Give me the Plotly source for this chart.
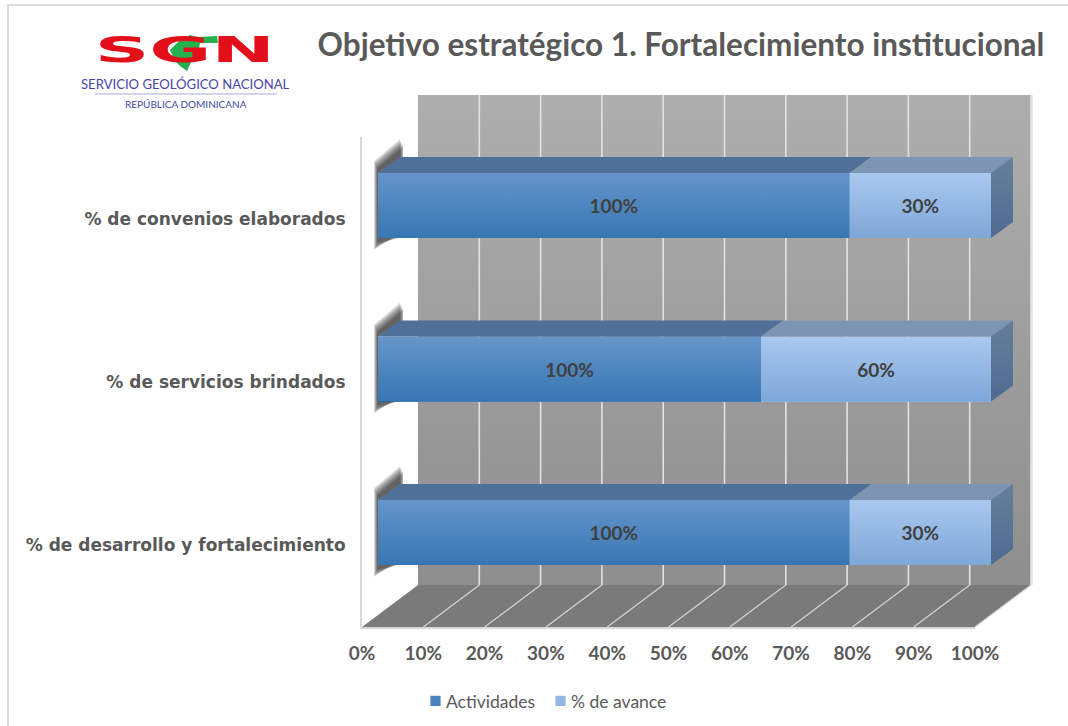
import plotly.graph_objects as go

# ---- data (bottom-to-top, as the axis reads) ----
categories = ["% de desarrollo y fortalecimiento", "% de servicios brindados", "% de convenios elaborados"]
actividades = [100, 100, 100]
avance = [30, 60, 30]
series_names = ["Actividades", "% de avance"]
x_ticks = [0, 10, 20, 30, 40, 50, 60, 70, 80, 90, 100]
title_text = "Objetivo estratégico 1. Fortalecimiento institucional"
logo_name = "SGN"
logo_line1 = "SERVICIO GEOLÓGICO NACIONAL"
logo_line2 = "REPÚBLICA DOMINICANA"

# ---- layout geometry (page pixels) ----
W, H = 1068, 726
FRONT_L, FRONT_R, FRONT_T, FRONT_B = 362, 975, 137, 627     # front plane of the 3-D box
BAR_L, BAR_R, BAR_T, BAR_B = 378, 991, 123.75, 614.25       # plane of the bars' front faces
WALL_L, WALL_R, WALL_T, WALL_B = 418, 1031, 95, 585         # back wall
BAR_DX, BAR_DY = 22, 16                                     # bar depth
PAD_L, PAD_R = 14, 46
px_per_x = (BAR_R - BAR_L) / 100
px_per_y = (BAR_B - BAR_T) / 3
dx = BAR_DX / px_per_x
dy = BAR_DY / px_per_y
half = 65 / px_per_y / 2

GREY_TEXT = "#595959"
BLUE_TOP, BLUE_BOT = "#6595CB", "#3876B2"
LIGHT_TOP, LIGHT_BOT = "#A9C8EE", "#7FA7D8"

fig = go.Figure()

def poly(xs, ys, color=None, gradient=None, xa="x", ya="y", opacity=None):
    kw = dict(x=list(xs) + [xs[0]], y=list(ys) + [ys[0]], mode="lines", line=dict(width=0),
              fill="toself", hoverinfo="skip", showlegend=False, xaxis=xa, yaxis=ya)
    if gradient:
        kw["fillgradient"] = dict(type="vertical", colorscale=[[0, gradient[0]], [1, gradient[1]]])
    else:
        kw["fillcolor"] = color
    if opacity is not None:
        kw["opacity"] = opacity
    fig.add_trace(go.Scatter(**kw))

def seg(xs, ys, color, width, xa="x", ya="y"):
    fig.add_trace(go.Scatter(x=xs, y=ys, mode="lines", line=dict(color=color, width=width),
                             hoverinfo="skip", showlegend=False, xaxis=xa, yaxis=ya))

# ---- page canvas: frame, box walls, logo rule ----
seg([8, 8, W], [H, 5, 5], "#dcdcdc", 2)
poly([WALL_L, WALL_R, WALL_R, WALL_L], [WALL_T, WALL_T, WALL_B, WALL_B], gradient=("#8E8E8E", "#AEAEAE"))
poly([FRONT_L, FRONT_R, WALL_R, WALL_L], [FRONT_B, FRONT_B, WALL_B, WALL_B], color="#7A7A7A")
seg([WALL_R + 1, WALL_R + 1], [WALL_T, WALL_B], "#e4e4e4", 1.5)
step = (FRONT_R - FRONT_L) / 100
for t in x_ticks[1:]:
    seg([WALL_L + t * step] * 2, [WALL_T, WALL_B], "#e2e2e2", 1.6)
    seg([FRONT_L + t * step, WALL_L + t * step], [FRONT_B, WALL_B], "#d4d4d4", 1.2)
seg([95, 277], [94, 94], "#a9a9e0", 1.2)

# ---- bars ----
fig.add_trace(go.Bar(name=series_names[0], y=list(range(len(categories))), x=actividades, orientation="h",
                     marker=dict(color="#4A84BF", line=dict(width=0)), xaxis="x2", yaxis="y2", hoverinfo="skip"))
fig.add_trace(go.Bar(name=series_names[1], y=list(range(len(categories))), x=avance, orientation="h",
                     marker=dict(color="#94B6E2", line=dict(width=0)), xaxis="x2", yaxis="y2", hoverinfo="skip"))

label_x, label_y, label_t = [], [], []
ux, uy = 1 / px_per_x, 1 / px_per_y
for i, (a, b) in enumerate(zip(actividades, avance)):
    share = a / (a + b) * 100
    top, bot = i + half, i - half
    # blurred shadow on the side wall: many faint layers, tighter ones on top
    for grow in (6, 5, 4, 3, 2, 1, 0, -1, -2):
        tip = BAR_DX + 3 - max(grow, 0) * 0.5
        poly([-1 * ux - max(grow, 0) * 0.5 * ux, tip * ux, tip * ux, 0, 0, (19 - grow) * ux, -1 * ux - max(grow, 0) * 0.5 * ux],
             [top + (6 + grow) * uy, top + (28 + grow) * uy, top + BAR_DY * uy, top, bot, bot,
              bot - (6 + grow) * uy],
             color="#262626", xa="x2", ya="y2", opacity=0.13)
    # front faces with the vertical gradient
    poly([0, share, share, 0], [bot, bot, top, top], gradient=(BLUE_BOT, BLUE_TOP), xa="x2", ya="y2")
    poly([share, 100, 100, share], [bot, bot, top, top], gradient=(LIGHT_BOT, LIGHT_TOP), xa="x2", ya="y2")
    # top faces and right side
    poly([0, share, share + dx, dx], [top, top, top + dy, top + dy], color="#4F7199", xa="x2", ya="y2")
    poly([share, 100, 100 + dx, share + dx], [top, top, top + dy, top + dy], color="#7D94B2", xa="x2", ya="y2")
    poly([100, 100 + dx, 100 + dx, 100], [bot, bot + dy, top + dy, top], gradient=("#4E6B90", "#677F9C"), xa="x2", ya="y2")
    label_x += [share / 2, share + (100 - share) / 2]
    label_y += [i - 3 * uy, i - 3 * uy]
    label_t += [f"{a}%", f"{b}%"]

fig.add_trace(go.Scatter(x=label_x, y=label_y, text=label_t, mode="text", textposition="middle center",
                         textfont=dict(family="Lato", size=19, color="#404040", weight="bold"),
                         hoverinfo="skip", showlegend=False, xaxis="x2", yaxis="y2"))

# ---- front axes carrying the tick labels ----
fig.add_trace(go.Scatter(x=[0], y=[0], mode="markers", marker=dict(opacity=0), hoverinfo="skip",
                         showlegend=False, xaxis="x3", yaxis="y3"))

hidden = dict(visible=False, fixedrange=True)
fig.update_layout(
    width=W, height=H, margin=dict(l=0, r=0, t=0, b=0, autoexpand=False), paper_bgcolor="white",
    plot_bgcolor="rgba(0,0,0,0)",
    barmode="stack", barnorm="percent", bargap=1 - 65 / px_per_y,
    title=dict(text=title_text, x=681 / W, y=1 - 45 / H, xanchor="center", yanchor="middle",
               font=dict(family="Lato", size=31.5, color=GREY_TEXT, weight="bold")),
    xaxis=dict(hidden, domain=[0, 1], range=[0, W]),
    yaxis=dict(hidden, domain=[0, 1], range=[H, 0]),
    xaxis2=dict(hidden, domain=[(BAR_L - PAD_L) / W, (BAR_R + PAD_R) / W],
                range=[-PAD_L / px_per_x, 100 + PAD_R / px_per_x], anchor="y2"),
    yaxis2=dict(hidden, domain=[1 - BAR_B / H, 1 - BAR_T / H], range=[-0.5, 2.5], anchor="x2"),
    xaxis3=dict(domain=[FRONT_L / W, FRONT_R / W], range=[0, 100], anchor="y3", tickvals=x_ticks,
                ticktext=[f"{t}%" for t in x_ticks], showgrid=False, zeroline=False, showline=True,
                linecolor="#d9d9d9", linewidth=2,
                ticks="outside", ticklen=8, tickcolor="rgba(0,0,0,0)", fixedrange=True,
                tickfont=dict(family="Lato", size=19, color=GREY_TEXT, weight="bold")),
    yaxis3=dict(domain=[1 - FRONT_B / H, 1 - FRONT_T / H], range=[-0.5, 2.5], anchor="x3",
                tickvals=list(range(len(categories))), ticktext=categories, showgrid=False, zeroline=False,
                showline=True, linecolor="#d9d9d9", linewidth=2, ticks="outside", ticklen=11,
                tickcolor="rgba(0,0,0,0)", fixedrange=True,
                tickfont=dict(family="DejaVu Sans", size=17, color=GREY_TEXT, weight="bold")),
    legend=dict(orientation="h", x=406 / W, y=1 - 701 / H, xanchor="left", yanchor="middle",
                traceorder="normal",
                font=dict(family="Lato", size=17.5, color=GREY_TEXT), entrywidth=80, entrywidthmode="pixels",
                bgcolor="rgba(0,0,0,0)"),
    annotations=[
        dict(text=logo_name, x=185, y=49, xref="x", yref="y", showarrow=False,
             font=dict(family="DejaVu Sans", size=36, color="#E3101C", weight="bold")),
        dict(text=logo_line1, x=185.5, y=84, xref="x", yref="y", showarrow=False,
             font=dict(family="Lato", size=13.1, color="#4646A6")),
        dict(text=logo_line2, x=185.5, y=104, xref="x", yref="y", showarrow=False,
             font=dict(family="Lato", size=10, color="#4646A6")),
    ],
    shapes=[dict(type="path", xref="x", yref="y", layer="above", line=dict(width=0), fillcolor="#22B14C",
                 path="M170,50 L180,40 L190,35 L198,37 L217,36 L218,43 L200,43 L198,53 L192,60 L187,71 L180,66 L175,61 Z")],
)

# stretch the logo wordmark (still real text), tighten the legend swatches, drop the page margin
post = """
function tweak(){
  document.body.style.margin='0';
  document.querySelectorAll('text.annotation-text').forEach(function(t){
    if(t.textContent==='SGN'){t.setAttribute('textLength','180');t.setAttribute('lengthAdjust','spacingAndGlyphs');}
  });
  document.querySelectorAll('.legend .legendpoints path').forEach(function(p){
    p.setAttribute('transform','translate(29.5,0) scale(0.85)');
  });
  document.querySelectorAll('.legend .scrollbox').forEach(function(s){s.removeAttribute('clip-path');});
  document.querySelectorAll('.legend [clip-path]').forEach(function(s){s.removeAttribute('clip-path');});
}
tweak(); setTimeout(tweak,60);
"""
fig.write_html("out.html", post_script=post, config={"displayModeBar": False})
